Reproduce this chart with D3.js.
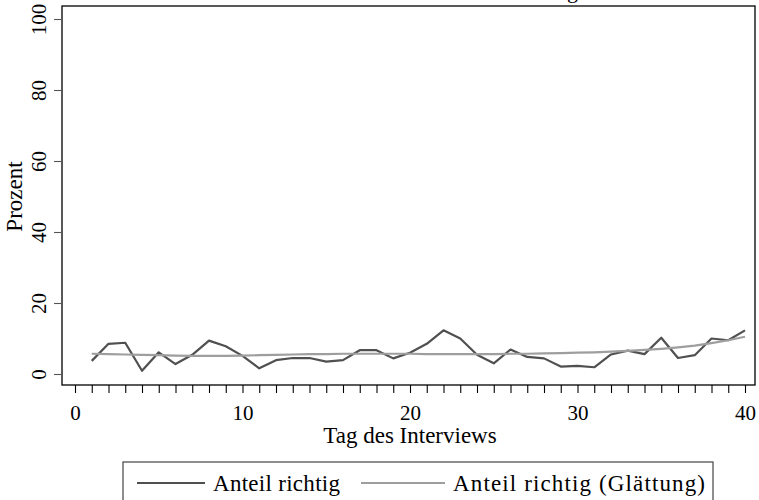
<!DOCTYPE html>
<html lang="de">

<head>
    <meta charset="UTF-8">
    <title>Anteil richtig</title>
    <script src="https://cdn.jsdelivr.net/npm/d3@7"></script>
    <style>
        body { margin: 0; background: #fff; }
        text { font-family: "Liberation Serif", "DejaVu Serif", serif; }
    </style>
</head>

<body>
    <script>
    var width = 759; //画布宽
    var height = 500; //画布高

    // Daten
    var days = [1, 2, 3, 4, 5, 6, 7, 8, 9, 10, 11, 12, 13, 14, 15, 16, 17, 18, 19, 20,
        21, 22, 23, 24, 25, 26, 27, 28, 29, 30, 31, 32, 33, 34, 35, 36, 37, 38, 39, 40];
    var anteil = [3.7, 8.5, 8.8, 0.9, 6.1, 2.8, 5.4, 9.4, 7.8, 5.1, 1.6, 3.9, 4.5, 4.5, 3.5, 3.9, 6.7, 6.7, 4.4, 6.0,
        8.5, 12.3, 10.0, 5.4, 3.0, 6.9, 4.8, 4.4, 2.1, 2.3, 1.9, 5.5, 6.6, 5.6, 10.2, 4.5, 5.3, 10.0, 9.5, 12.3];
    var glaettung = [5.7, 5.6, 5.5, 5.4, 5.3, 5.2, 5.1, 5.1, 5.1, 5.2, 5.3, 5.4, 5.5, 5.6, 5.6, 5.7, 5.7, 5.7, 5.7, 5.7,
        5.6, 5.6, 5.6, 5.6, 5.6, 5.7, 5.7, 5.8, 5.9, 6.0, 6.1, 6.3, 6.5, 6.8, 7.1, 7.5, 8.0, 8.7, 9.5, 10.5];
    var xTicks = [0, 10, 20, 30, 40];
    var xMinorTicks = [0, 1, 2, 3, 4, 5, 6, 7, 8, 9, 10, 11, 12, 13, 14, 15, 16, 17, 18, 19, 20,
        21, 22, 23, 24, 25, 26, 27, 28, 29, 30, 31, 32, 33, 34, 35, 36, 37, 38, 39, 40];
    var yTicks = [0, 20, 40, 60, 80, 100];
    var seriesNames = ['Anteil richtig', 'Anteil richtig (Glättung)'];
    var seriesColors = ['#505050', '#9e9e9e'];

    var svg = d3.select('body')
        .append('svg')
        .attr('width', width)
        .attr('height', height);

    // Plotbereich
    var frame = { left: 62, right: 755, top: 6, bottom: 385 };

    var x = d3.scaleLinear().domain([0, 40]).range([75, 745]);
    var y = d3.scaleLinear().domain([0, 100]).range([374, 19]);

    // Titel (oben abgeschnitten, wie im Original)
    svg.append('text')
        .attr('x', 578)
        .attr('y', -2)
        .attr('text-anchor', 'end')
        .attr('font-size', '22px')
        .text('Anteil richtig');

    svg.append('rect')
        .attr('x', frame.left)
        .attr('y', frame.top)
        .attr('width', frame.right - frame.left)
        .attr('height', frame.bottom - frame.top)
        .attr('fill', 'none')
        .attr('stroke', '#000')
        .attr('stroke-width', 1.3);

    // x-Achse
    var xAxis = d3.axisBottom(x)
        .tickValues(xMinorTicks)
        .tickSize(8)
        .tickPadding(12)
        .tickFormat(function(d) {
            return xTicks.indexOf(d) >= 0 ? d : '';
        });
    var gx = svg.append('g')
        .attr('transform', 'translate(0,' + frame.bottom + ')')
        .call(xAxis);
    gx.select('.domain').remove();
    gx.selectAll('line').attr('stroke', '#000').attr('stroke-width', 1.1);
    gx.selectAll('text')
        .attr('fill', '#000')
        .attr('font-size', '21px')
        .attr('font-family', '"Liberation Serif", serif');

    // y-Achse
    var yAxis = d3.axisLeft(y)
        .tickValues(yTicks)
        .tickSize(8)
        .tickPadding(0);
    var gy = svg.append('g')
        .attr('transform', 'translate(' + frame.left + ',0)')
        .call(yAxis);
    gy.select('.domain').remove();
    gy.selectAll('line').attr('stroke', '#555').attr('stroke-width', 1.1);
    gy.selectAll('text')
        .attr('fill', '#000')
        .attr('font-size', '21px')
        .attr('font-family', '"Liberation Serif", serif')
        .attr('text-anchor', 'middle')
        .attr('x', 0)
        .attr('dy', 0)
        .attr('transform', 'translate(-16,0) rotate(-90)');

    // Achsentitel
    svg.append('text')
        .attr('x', x(20))
        .attr('y', 443)
        .attr('text-anchor', 'middle')
        .attr('font-size', '23px')
        .text('Tag des Interviews');

    svg.append('text')
        .attr('transform', 'translate(22,' + y(50) + ') rotate(-90)')
        .attr('text-anchor', 'middle')
        .attr('font-size', '23px')
        .text('Prozent');

    // Linien
    var line = d3.line()
        .x(function(d, i) { return x(days[i]); })
        .y(function(d) { return y(d); });

    svg.append('path')
        .datum(anteil)
        .attr('fill', 'none')
        .attr('stroke', seriesColors[0])
        .attr('stroke-width', 2.2)
        .attr('stroke-linejoin', 'round')
        .attr('d', line);

    svg.append('path')
        .datum(glaettung)
        .attr('fill', 'none')
        .attr('stroke', seriesColors[1])
        .attr('stroke-width', 2.2)
        .attr('stroke-linejoin', 'round')
        .attr('d', line);

    // Legende
    var legend = svg.append('g');
    legend.append('rect')
        .attr('x', 123)
        .attr('y', 462)
        .attr('width', 590)
        .attr('height', 50)
        .attr('fill', '#fff')
        .attr('stroke', '#444')
        .attr('stroke-width', 1.2);

    var legendX = [137, 361];
    var legendTextW = [127, 252];
    var legendItem = legend.selectAll('g.item')
        .data(seriesNames)
        .enter()
        .append('g')
        .attr('class', 'item')
        .attr('transform', function(d, i) {
            return 'translate(' + legendX[i] + ',483)';
        });
    legendItem.append('line')
        .attr('x1', 0)
        .attr('x2', function(d, i) { return i === 0 ? 68 : 84; })
        .attr('stroke', function(d, i) { return seriesColors[i]; })
        .attr('stroke-width', 2);
    legendItem.append('text')
        .attr('x', function(d, i) { return i === 0 ? 76 : 92; })
        .attr('dy', '0.35em')
        .attr('font-size', '23px')
        .attr('textLength', function(d, i) { return legendTextW[i]; })
        .attr('lengthAdjust', 'spacing')
        .text(function(d) { return d; });
    </script>
</body>

</html>
